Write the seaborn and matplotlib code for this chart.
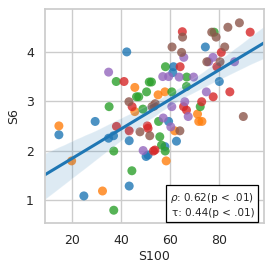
import seaborn as sns
import matplotlib.pyplot as plt
import pandas as pd

# values, one list per colour group
blue_x = [42.4, 29.5, 14.7, 35.0, 37.0, 43.4, 24.9, 43.4, 74.5, 61.5, 61.2, 80.2, 59.5, 62.7, 51.1, 58.0, 50.3]
blue_y = [4.00, 2.59, 2.32, 2.25, 2.30, 2.20, 1.08, 1.28, 4.10, 3.70, 3.58, 3.40, 2.59, 2.19, 1.91, 2.08, 1.88]

orange_x = [14.7, 19.9, 32.5, 45.7, 45.7, 55.2, 58.0, 71.3, 71.8, 73.1, 62.0, 58.5]
orange_y = [2.50, 1.79, 1.18, 3.28, 2.79, 3.13, 3.19, 2.74, 2.59, 2.59, 2.40, 1.79]

green_x = [38.1, 46.4, 35.2, 37.1, 44.5, 37.1, 51.6, 49.0, 58.2, 52.5, 66.8, 50.5, 60.8, 66.9, 78.1, 72.4, 55.4, 55.9, 56.6, 58.1, 47.3]
green_y = [3.40, 3.09, 2.89, 0.79, 1.59, 1.99, 3.39, 2.84, 3.70, 3.39, 3.30, 3.19, 3.19, 3.49, 4.40, 2.89, 2.59, 2.28, 2.11, 1.99, 3.09]

red_x = [41.3, 44.6, 38.2, 43.4, 65.1, 92.8, 81.0, 79.2, 64.2, 77.7, 84.5, 73.0, 65.6, 66.8, 50.8, 51.1, 53.9, 53.3]
red_y = [3.40, 2.89, 2.49, 2.40, 4.41, 4.40, 3.99, 3.70, 3.70, 3.09, 3.19, 2.99, 2.89, 2.82, 2.50, 2.45, 2.01, 1.99]

purple_x = [35.0, 65.7, 77.6, 75.8, 86.4, 57.1, 59.5, 63.8, 69.7, 74.9, 66.1, 60.8, 67.5, 57.3, 60.4, 49.1]
purple_y = [3.59, 3.89, 3.89, 3.80, 3.80, 3.50, 3.50, 3.49, 3.49, 3.19, 2.99, 2.89, 2.69, 2.66, 2.48, 2.00]

brown_x = [43.3, 65.2, 77.1, 78.9, 83.7, 88.4, 60.9, 64.8, 82.4, 75.1, 80.5, 52.7, 54.0, 53.6, 90.0, 64.1, 47.8, 51.8]
brown_y = [2.99, 4.30, 4.40, 4.30, 4.50, 4.59, 4.10, 3.99, 4.10, 3.80, 3.80, 2.89, 2.95, 2.90, 2.69, 2.40, 2.38, 2.30]

stats_text = "$\\rho$: 0.62(p < .01)\n\u03c4: 0.44(p < .01)"

groups = [("A", blue_x, blue_y), ("B", orange_x, orange_y), ("C", green_x, green_y),
          ("D", red_x, red_y), ("E", purple_x, purple_y), ("F", brown_x, brown_y)]
rows = []
for name, xs, ys in groups:
    for x, y in zip(xs, ys):
        rows.append((name, x, y))
df = pd.DataFrame(rows, columns=["group", "S100", "S6"])

sns.set_theme(style="whitegrid")
plt.rcParams["font.family"] = ["DejaVu Sans"]

fig = plt.figure(figsize=(2.74, 2.73), dpi=100)
ax = fig.add_axes([0.164, 0.183, 0.8, 0.784])
ax.set_xlim(9, 98.5)
ax.set_ylim(0.53, 4.87)

sns.scatterplot(data=df, x="S100", y="S6", hue="group", palette="tab10",
                s=42, alpha=0.8, linewidth=0, legend=False, ax=ax)
sns.regplot(data=df, x="S100", y="S6", scatter=False, truncate=False,
            color="tab:blue", line_kws={"linewidth": 2.2}, ax=ax)

ax.set_xlim(9, 98.5)
ax.set_ylim(0.53, 4.87)
ax.set_xticks([20, 40, 60, 80])
ax.set_yticks([1, 2, 3, 4])
ax.tick_params(labelsize=9, pad=2)
ax.set_xlabel("S100", fontsize=9, labelpad=2)
ax.set_ylabel("S6", fontsize=9, labelpad=4)

ax.text(0.955, 0.025, stats_text, transform=ax.transAxes, ha="right", va="bottom",
        fontsize=7.5, linespacing=1.3,
        bbox=dict(boxstyle="square,pad=0.4", facecolor="white", edgecolor="black", linewidth=0.9))

plt.savefig("out.png", dpi=100)
